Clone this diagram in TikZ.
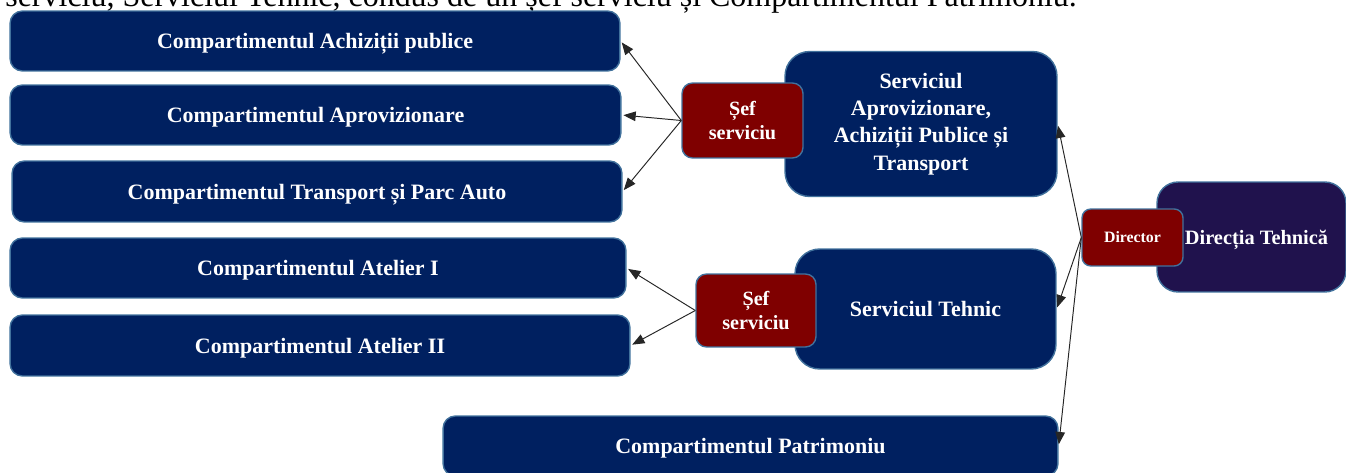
\documentclass[tikz,border=0pt]{standalone}
\usepackage{fontspec}
\setmainfont{Liberation Serif}
\usetikzlibrary{arrows.meta}
\definecolor{navy}{HTML}{002060}
\definecolor{rim}{HTML}{41719C}
\definecolor{maroon}{HTML}{7F0000}
\definecolor{plum}{HTML}{20124D}

\begin{document}
\begin{tikzpicture}[x=0.02cm,y=-0.02cm,->,>={Triangle[length=7pt,width=5.5pt]},shorten >=1pt,
  dept/.style={shape=rectangle,rounded corners=7pt,draw=rim,line width=0.8pt,fill=navy,
    text=white,font=\bfseries\fontsize{12.5}{15.5}\selectfont,align=center,inner sep=0pt},
  line/.style={dept,text depth=0pt},
  chief/.style={dept,fill=maroon,rounded corners=6pt,font=\bfseries\fontsize{11.5}{13.5}\selectfont},
  every edge/.append style={line width=0.55pt,draw=black!85}]
\useasboundingbox (0,0) rectangle (1346,473);
\clip (0,0) rectangle (1346,473);
\node[anchor=base west,inner sep=0pt,font=\fontsize{18.2}{20}\selectfont] (0) at (5,7) {serviciu, Serviciul Tehnic, condus de un șef serviciu și Compartimentul Patrimoniu.};
\node[line,minimum width=12.2cm,minimum height=1.2cm] (1) at (315,41) {Compartimentul Achiziții publice};
\node[line,minimum width=12.22cm,minimum height=1.2cm] (2) at (315.5,115) {Compartimentul Aprovizionare};
\node[line,minimum width=12.2cm,minimum height=1.22cm] (3) at (317,191.5) {Compartimentul Transport și Parc Auto};
\node[line,minimum width=12.32cm,minimum height=1.2cm] (4) at (318,268) {Compartimentul Atelier I};
\node[line,minimum width=12.4cm,minimum height=1.22cm] (5) at (320,345.5) {Compartimentul Atelier II};
\node[line,minimum width=12.3cm,minimum height=1.2cm] (6) at (750.5,446) {Compartimentul Patrimoniu};
\node[dept,rounded corners=14pt,minimum width=5.44cm,minimum height=2.9cm] (7) at (921,124) {Serviciul\\Aprovizionare,\\Achiziții Publice și\\Transport};
\node[line,rounded corners=14pt,minimum width=5.22cm,minimum height=2.4cm] (9) at (925.5,309) {Serviciul Tehnic};
\node[line,fill=plum,rounded corners=12pt,minimum width=3.78cm,minimum height=2.2cm,font=\bfseries\fontsize{11.6}{14}\selectfont] (12) at (1251.5,237) {\hspace*{0.2cm}Direcția Tehnică};
\node[chief,minimum width=2.42cm,minimum height=1.5cm] (8) at (742.5,120.5) {Șef\\serviciu};
\node[chief,minimum width=2.4cm,minimum height=1.46cm] (10) at (756,310.5) {Șef\\serviciu};
\node[chief,text depth=0pt,rounded corners=5pt,minimum width=2.02cm,minimum height=1.14cm,font=\bfseries\fontsize{9}{11}\selectfont] (11) at (1132.5,237.5) {Director};
\path (8.west) edge (1.east);
\path (8.west) edge (2.east);
\path (8.west) edge (3.east);
\path (10.west) edge (4.east);
\path (10.west) edge (5.east);
\path (11.west) edge (7.east);
\path (11.west) edge (9.east);
\path (11.west) edge (6.east);
\end{tikzpicture}
\end{document}
